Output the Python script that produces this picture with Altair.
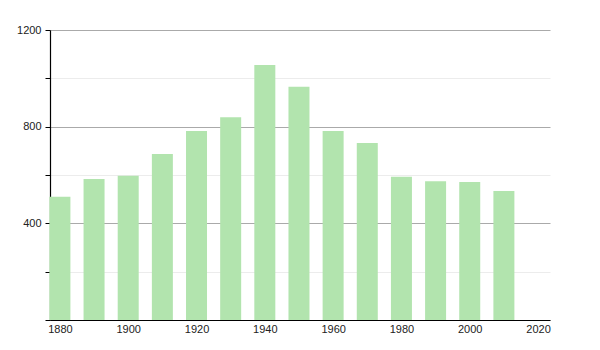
import altair as alt
import pandas as pd

years = [1880, 1890, 1900, 1910, 1920, 1930, 1940, 1950, 1960, 1970, 1980, 1990, 2000, 2010]
population = [510, 583, 597, 687, 782, 839, 1055, 965, 782, 732, 593, 574, 571, 534]
x_ticks = [1880, 1900, 1920, 1940, 1960, 1980, 2000, 2020]
y_ticks = [0, 200, 400, 600, 800, 1000, 1200]

df = pd.DataFrame({"year": years, "pop": population})

bars = alt.Chart(df).mark_bar(size=21, color="#b2e4ae").encode(
    x=alt.X("year:Q",
            scale=alt.Scale(domain=[1877.1, 2023.5], nice=False, zero=False, padding=0),
            axis=alt.Axis(values=x_ticks, format="d", title=None, grid=False,
                          ticks=False, domainColor="#000", domainWidth=1.2,
                          labelColor="#222", labelFont="Liberation Sans",
                          labelFontSize=11, labelPadding=3)),
    y=alt.Y("pop:Q",
            scale=alt.Scale(domain=[0, 1200], nice=False),
            axis=alt.Axis(values=y_ticks, title=None, format="d",
                          labelExpr="datum.value % 400 == 0 && datum.value > 0 ? datum.label : ''",
                          grid=True,
                          gridColor={"condition": {"test": "datum.value % 400 == 0", "value": "#aaaaaa"},
                                     "value": "#ececec"},
                          gridWidth=1,
                          domainColor="#000", domainWidth=1.2,
                          tickColor="#000", tickSize=5,
                          labelColor="#222", labelFont="Liberation Sans",
                          labelFontSize=11, labelPadding=4)),
)

chart = bars.properties(
    width=500, height=290,
    background="white",
    autosize=alt.AutoSizeParams(type="none"),
    padding={"left": 50, "top": 30, "right": 50, "bottom": 30},
).configure_view(stroke=None)

chart.save("out.html", embed_options={"renderer": "svg", "actions": False})
